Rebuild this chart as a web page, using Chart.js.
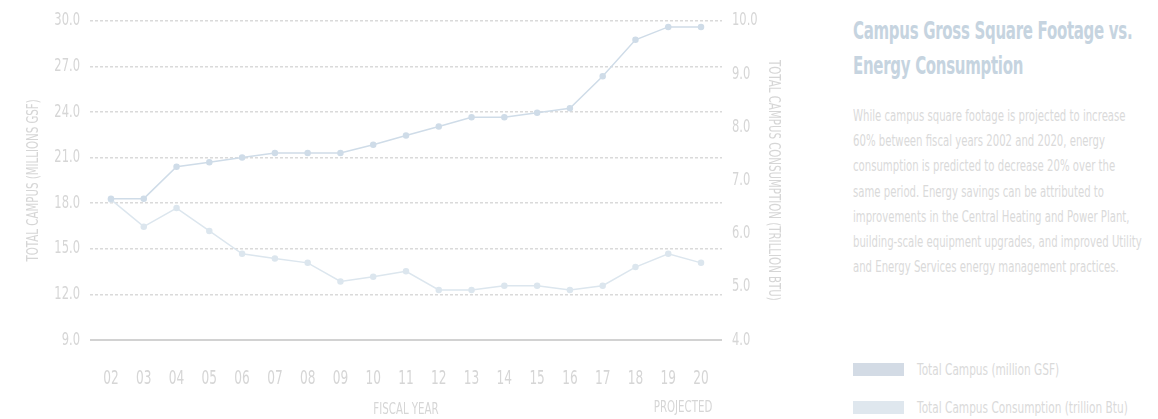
<!DOCTYPE html>
<html>
<head>
<meta charset="utf-8">
<script src="https://cdn.jsdelivr.net/npm/chart.js@4/dist/chart.umd.min.js"></script>
<style>
  body { margin: 0; background: #fff; font-family: "DejaVu Sans", sans-serif; }
  #wrap { position: relative; width: 1158px; height: 419px; overflow: hidden; }
  #box { position: absolute; left: 0; top: 0; width: 800px; height: 419px; }
  #title { position: absolute; left: 853px; top: 13px; font-size: 25px; font-weight: bold; color: #c6d4e0; line-height: 35px; transform: scaleX(0.6); transform-origin: left top; white-space: nowrap; letter-spacing: -0.5px; }
  #desc { position: absolute; left: 853px; top: 104px; font-size: 15px; color: #dadada; line-height: 25.2px; transform: scaleX(0.675); transform-origin: left top; white-space: nowrap; }
  .leg { position: absolute; left: 853px; height: 14px; color: #dadada; white-space: nowrap; }
  .leg i { position: absolute; left: 0; top: 0; width: 51px; height: 13px; }
  .leg b { position: absolute; left: 64px; top: -3px; font-weight: normal; font-size: 16px; transform: scaleX(0.66); transform-origin: left top; }
</style>
</head>
<body>
<div id="wrap">
  <div id="box"><canvas id="myChart"></canvas></div>
  <div id="title">Campus Gross Square Footage vs.<br>Energy Consumption</div>
  <div id="desc">While campus square footage is projected to increase<br>60% between fiscal years 2002 and 2020, energy<br>consumption is predicted to decrease 20% over the<br>same period. Energy savings can be attributed to<br>improvements in the Central Heating and Power Plant,<br>building-scale equipment upgrades, and improved Utility<br>and Energy Services energy management practices.</div>
  <div class="leg" style="top:363px"><i style="background:#d3dbe5"></i><b>Total Campus (million GSF)</b></div>
  <div class="leg" style="top:401px"><i style="background:#dfe7ee"></i><b>Total Campus Consumption (trillion Btu)</b></div>
</div>
<script>
const years = ['02','03','04','05','06','07','08','09','10','11','12','13','14','15','16','17','18','19','20'];
const campusGsf = [18.3,18.3,20.4,20.7,21.0,21.3,21.3,21.3,21.85,22.45,23.05,23.65,23.65,23.95,24.25,26.35,28.75,29.6,29.6];
const consumption = [6.64,6.13,6.48,6.05,5.62,5.53,5.45,5.1,5.19,5.29,4.94,4.94,5.02,5.02,4.94,5.02,5.37,5.62,5.45];
const leftTicks = [9,12,15,18,21,24,27,30];
const rightTicks = [4,5,6,7,8,9,10];

const FONT = "'DejaVu Sans', sans-serif";
const tickColor = '#d6d6d6';

// no condensed face installed, so squeeze canvas text sideways around its anchor
const rawFillText = CanvasRenderingContext2D.prototype.fillText;
CanvasRenderingContext2D.prototype.fillText = function (text, x, y, maxWidth) {
    this.save();
    this.translate(x, y);
    this.scale(0.64, 1);
    if (maxWidth === undefined) rawFillText.call(this, text, 0, 0);
    else rawFillText.call(this, text, 0, 0, maxWidth / 0.64);
    this.restore();
};

// "PROJECTED" under the last year
const projectedLabel = {
    id: 'projectedLabel',
    afterDraw(chart) {
        const ctx = chart.ctx;
        const x = chart.scales.x.getPixelForValue(years.length - 1);
        const y = chart.scales.x.bottom - 11;
        ctx.save();
        ctx.font = '16px ' + FONT;
        ctx.fillStyle = tickColor;
        ctx.textAlign = 'center';
        ctx.textBaseline = 'middle';
        ctx.fillText('PROJECTED', x - 18, y);
        ctx.restore();
    }
};

const toPoints = arr => arr.map((v, i) => ({ x: i, y: v }));

const ctx = document.getElementById('myChart').getContext('2d');
new Chart(ctx, {
    type: 'line',
    data: {
        datasets: [{
            label: 'Total Campus (million GSF)',
            data: toPoints(campusGsf),
            yAxisID: 'y',
            borderColor: '#cfdce8',
            backgroundColor: '#cfdce8',
            borderWidth: 1.5,
            pointRadius: 2.5,
            tension: 0
        },
        {
            label: 'Total Campus Consumption (trillion Btu)',
            data: toPoints(consumption),
            yAxisID: 'y1',
            borderColor: '#dce6ee',
            backgroundColor: '#dce6ee',
            borderWidth: 1.5,
            pointRadius: 2.5,
            tension: 0
        }]
    },
    plugins: [projectedLabel],
    options: {
        responsive: true,
        maintainAspectRatio: false,
        animation: false,
        layout: { padding: { top: 12, bottom: 0, left: 24, right: 17 } },
        plugins: { legend: { display: false }, tooltip: { enabled: false } },
        scales: {
            x: {
                type: 'linear',
                min: -0.64,
                max: years.length - 1 + 0.64,
                afterBuildTicks: s => { s.ticks = years.map((y, i) => ({ value: i })); },
                afterFit: s => { s.height = 79; },
                grid: { display: false },
                border: { display: false },
                ticks: { color: tickColor, font: { family: FONT, size: 19 }, padding: 20, maxRotation: 0, autoSkip: false, callback: v => years[v] },
                title: { display: true, text: 'FISCAL YEAR', color: tickColor, font: { family: FONT, size: 16 }, padding: { top: 10, bottom: 0 } }
            },
            y: {
                position: 'left',
                min: 9, max: 30,
                afterBuildTicks: s => { s.ticks = leftTicks.map(v => ({ value: v })); },
                afterFit: s => { s.width = 66; },
                ticks: { color: tickColor, font: { family: FONT, size: 18 }, padding: 10, callback: v => v.toFixed(1) },
                grid: {
                    color: c => c.tick && c.tick.value === 9 ? '#d2d2d2' : '#dadada',
                    lineWidth: c => c.tick && c.tick.value === 9 ? 2 : 1.5,
                    drawTicks: false
                },
                border: { display: false, dash: c => c.tick && c.tick.value === 9 ? [] : [3, 2] },
                title: { display: true, text: 'TOTAL CAMPUS (MILLIONS GSF)', color: tickColor, font: { family: FONT, size: 16 }, padding: { top: 0, bottom: 0 } }
            },
            y1: {
                position: 'right',
                min: 4, max: 10,
                afterBuildTicks: s => { s.ticks = rightTicks.map(v => ({ value: v })); },
                afterFit: s => { s.width = 61; },
                ticks: { color: tickColor, font: { family: FONT, size: 18 }, padding: 10, callback: v => v.toFixed(1) },
                grid: { display: false, drawTicks: false },
                border: { display: false },
                title: { display: true, text: 'TOTAL CAMPUS CONSUMPTION (TRILLION BTU)', color: tickColor, font: { family: FONT, size: 16 }, padding: { top: 0, bottom: 0 } }
            }
        }
    }
});
</script>
</body>
</html>
